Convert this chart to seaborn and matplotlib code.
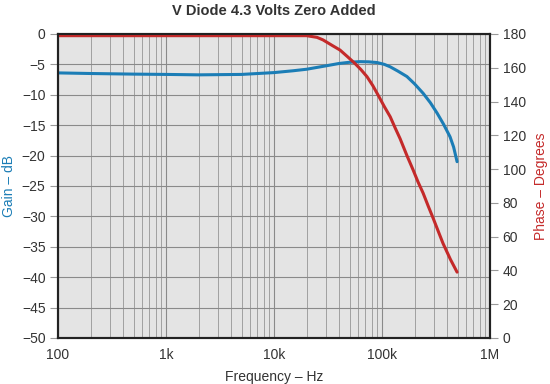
import numpy as np
import pandas as pd
import matplotlib
matplotlib.use("Agg")
import matplotlib.pyplot as plt
import seaborn as sns
from matplotlib.ticker import FixedLocator, NullFormatter

# ---- data ----
gain_freq = [100, 200, 500, 1000, 2000, 5000, 10000, 15000, 20000, 30000,
             40000, 50000, 62600, 75000, 90000, 105000, 119000, 140000, 170000,
             200000, 240000, 280000, 323000, 370000, 426000, 460000, 495000]
gain_db = [-6.4, -6.5, -6.6, -6.65, -6.72, -6.65, -6.35, -6.05, -5.8, -5.25,
           -4.85, -4.65, -4.55, -4.58, -4.7, -5.0, -5.4, -6.1, -7.0,
           -8.2, -9.75, -11.3, -13.0, -14.8, -16.9, -18.6, -21.0]

phase_freq = [100, 1000, 10000, 20000, 25000, 28400, 35000, 40800, 48000, 56000,
              64000, 72600, 82000, 91800, 105000, 119000, 132000, 147000, 170000,
              194000, 215000, 240000, 268000, 297000, 330000, 367000, 430000, 495000]
phase_deg = [179, 179, 179, 179, 178, 176.5, 173, 170.5, 166.5, 162.6,
             158.8, 154.7, 149.5, 143.9, 137, 131, 124.5, 118, 108,
             99.5, 92.5, 85.8, 78, 71, 63.5, 56, 46.5, 39]

x_ticks = [100, 1000, 10000, 100000, 1000000]
x_tick_labels = ["100", "1k", "10k", "100k", "1M"]
gain_ticks = [0, -5, -10, -15, -20, -25, -30, -35, -40, -45, -50]
phase_ticks = [0, 20, 40, 60, 80, 100, 120, 140, 160, 180]

title = "V Diode 4.3 Volts Zero Added"
xlabel = "Frequency – Hz"
ylabel_left = "Gain – dB"
ylabel_right = "Phase – Degrees"

gain_df = pd.DataFrame({"freq": gain_freq, "gain": gain_db})
phase_df = pd.DataFrame({"freq": phase_freq, "phase": phase_deg})

sns.set_style("white")
plt.rcParams["font.family"] = ["Liberation Sans", "DejaVu Sans"]

BLUE = "#1b7db6"
RED = "#c42a2a"
TXT = "#333333"

fig = plt.figure(figsize=(5.5, 3.84), dpi=100)
ax = fig.add_axes([0.1055, 0.1198, 0.7855, 0.7917])
ax.set_facecolor("#e4e4e4")
ax2 = ax.twinx()

sns.lineplot(data=gain_df, x="freq", y="gain", ax=ax, color=BLUE, lw=2.2)
sns.lineplot(data=phase_df, x="freq", y="phase", ax=ax2, color=RED, lw=2.2)
for a in (ax, ax2):
    for ln in a.lines:
        ln.set_solid_capstyle("round")
        ln.set_solid_joinstyle("round")

for a in (ax, ax2):
    a.set_xscale("log")
    a.set_xlim(100, 1e6)
ax.set_ylim(-50, 0)
ax2.set_ylim(0, 180)

ax.xaxis.set_major_locator(FixedLocator(x_ticks))
ax.set_xticklabels(x_tick_labels)
minors = [m * 10 ** e for e in range(2, 6) for m in range(2, 10)]
ax.xaxis.set_minor_locator(FixedLocator(minors))
ax.xaxis.set_minor_formatter(NullFormatter())
ax.set_yticks(gain_ticks)
ax2.set_yticks(phase_ticks)

ax.grid(True, which="major", color="#8a8a8a", lw=0.8)
ax.grid(True, which="minor", axis="x", color="#a0a0a0", lw=0.7)
ax2.grid(False)
ax.set_axisbelow(True)

for a in (ax, ax2):
    for s in a.spines.values():
        s.set_color("#222222")
        s.set_linewidth(1.5)
ax.tick_params(axis="y", which="major", length=6, color="#999999", labelsize=10, labelcolor=TXT, pad=3)
ax.tick_params(axis="x", which="major", length=3, color="#999999", labelsize=10, labelcolor=TXT, pad=4)
ax.tick_params(axis="x", which="minor", length=0)
ax2.tick_params(axis="y", length=6, color="#999999", labelsize=10, labelcolor=TXT, pad=3)

ax.set_xlabel(xlabel, fontsize=10, color=TXT, labelpad=6)
ax.set_ylabel(ylabel_left, fontsize=10, color=BLUE, labelpad=4)
ax2.set_ylabel(ylabel_right, fontsize=10, color=RED, labelpad=6)
ax.set_title(title, fontsize=10.5, fontweight="bold", color=TXT, pad=14)

fig.savefig("out.png", dpi=100)
